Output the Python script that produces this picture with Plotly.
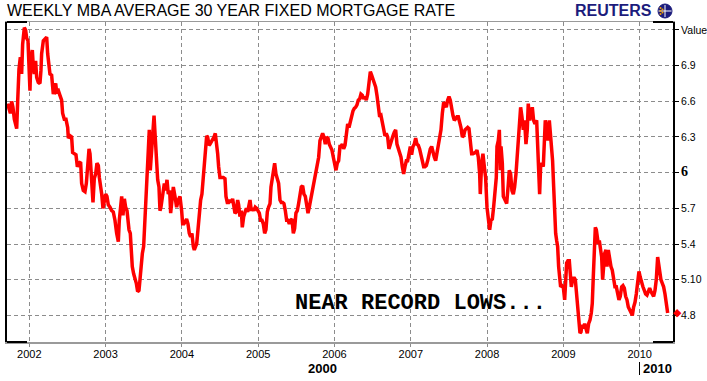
import plotly.graph_objects as go

# ---- data: weekly MBA 30-yr fixed rate (fraction of year offsets, rate %) ----
frac_2001 = [0.716,0.734,0.752,0.769,0.786,0.804,0.821,0.835,0.848,0.865,0.883,0.900,0.913,0.935,0.952,0.966,0.983,0.996]
rate_2001 = [6.58,6.55,6.50,6.60,6.55,6.45,6.38,6.37,6.60,6.87,6.97,6.83,7.08,7.22,7.20,7.13,7.11,6.86]

frac_2002 = [0.009,0.022,0.040,0.053,0.066,0.083,0.097,0.118,0.140,0.153,0.162,0.184,0.206,0.228,0.241,0.258,0.271,0.293,0.315,0.328,
             0.346,0.359,0.381,0.402,0.424,0.437,0.459,0.481,0.503,0.512,0.534,0.555,0.568,0.590,0.612,0.630,0.651,0.673,0.686,0.708,
             0.730,0.748,0.765,0.783,0.796,0.809,0.822,0.835,0.852,0.870,0.887,0.905,0.918,0.931,0.949,0.966,0.983]
rate_2002 = [6.69,6.97,7.03,6.89,6.83,6.94,6.80,6.76,6.75,6.86,7.00,7.11,7.13,7.14,7.00,6.93,6.83,6.82,6.66,6.72,
             6.75,6.68,6.69,6.65,6.61,6.50,6.45,6.45,6.38,6.29,6.31,6.30,6.17,6.16,6.15,6.05,6.08,6.09,5.91,5.85,
             5.84,5.91,6.08,6.20,6.16,6.03,5.82,5.75,5.95,5.99,6.08,6.06,5.96,5.91,5.82,5.70,5.77]

frac_2003 = [0.001,0.018,0.036,0.058,0.080,0.101,0.123,0.145,0.167,0.180,0.198,0.211,0.228,0.246,0.263,0.281,0.294,0.307,0.324,0.333,
             0.350,0.368,0.385,0.403,0.420,0.438,0.451,0.464,0.482,0.499,0.516,0.534,0.547,0.560,0.573,0.586,0.604,0.621,0.635,0.648,
             0.661,0.674,0.683,0.700,0.713,0.726,0.744,0.757,0.770,0.787,0.805,0.822,0.840,0.853,0.866,0.888,0.910,0.931,0.953,0.975,0.997]
rate_2003 = [5.82,5.80,5.73,5.71,5.68,5.67,5.60,5.49,5.42,5.60,5.77,5.80,5.64,5.78,5.71,5.68,5.60,5.52,5.49,5.32,
             5.21,5.15,5.12,5.07,5.00,5.01,5.10,5.24,5.32,5.38,5.60,5.77,5.99,6.23,6.36,6.02,6.19,6.36,6.48,6.33,
             6.13,6.10,5.94,5.88,5.68,5.71,5.80,5.85,5.91,5.85,5.94,5.82,5.85,5.66,5.77,5.88,5.80,5.71,5.77,5.80,5.68]

frac_2004 = [0.010,0.027,0.045,0.062,0.080,0.097,0.115,0.132,0.150,0.163,0.180,0.194,0.211,0.228,0.246,0.263,0.281,0.294,0.307,0.325,
             0.338,0.355,0.368,0.386,0.403,0.421,0.438,0.456,0.469,0.482,0.499,0.521,0.543,0.565,0.578,0.595,0.613,0.630,0.648,0.665,
             0.683,0.696,0.713,0.731,0.744,0.761,0.779,0.792,0.810,0.827,0.845,0.862,0.879,0.893,0.910,0.928,0.945,0.962,0.980,0.997]
rate_2004 = [5.57,5.57,5.60,5.61,5.57,5.49,5.46,5.49,5.38,5.35,5.38,5.40,5.52,5.66,5.77,5.82,5.94,6.08,6.16,6.31,
             6.30,6.23,6.24,6.26,6.27,6.30,6.33,6.24,6.16,6.05,5.96,5.96,5.96,5.95,5.80,5.75,5.75,5.77,5.75,5.78,
             5.68,5.66,5.67,5.77,5.73,5.63,5.68,5.54,5.63,5.67,5.70,5.67,5.71,5.77,5.68,5.70,5.68,5.71,5.70,5.68]

frac_2005 = [0.015,0.032,0.050,0.067,0.085,0.102,0.120,0.137,0.155,0.168,0.185,0.198,0.216,0.233,0.251,0.268,0.286,0.303,0.321,0.338,
             0.356,0.373,0.391,0.408,0.426,0.443,0.461,0.478,0.495,0.513,0.530,0.548,0.565,0.583,0.600,0.618,0.635,0.653,0.670,0.688,
             0.705,0.723,0.740,0.758,0.775,0.793,0.810,0.828,0.845,0.862,0.880,0.897,0.915,0.932,0.950,0.967,0.985]
rate_2005 = [5.66,5.60,5.60,5.57,5.49,5.52,5.67,5.71,5.74,5.88,5.96,6.02,6.08,5.99,5.94,5.91,5.77,5.75,5.75,5.74,
             5.68,5.60,5.60,5.57,5.60,5.61,5.49,5.53,5.66,5.68,5.74,5.80,5.88,5.89,5.82,5.80,5.74,5.66,5.71,5.77,
             5.82,5.88,5.96,6.03,6.08,6.13,6.27,6.31,6.33,6.30,6.24,6.30,6.29,6.24,6.22,6.19,6.13]

frac_2006 = [0.002,0.020,0.037,0.055,0.072,0.085,0.103,0.120,0.138,0.155,0.173,0.190,0.208,0.225,0.243,0.260,0.278,0.295,0.312,0.330,
             0.347,0.365,0.382,0.400,0.417,0.435,0.452,0.470,0.487,0.505,0.522,0.540,0.557,0.575,0.592,0.610,0.627,0.645,0.662,0.679,
             0.697,0.714,0.732,0.749,0.767,0.784,0.802,0.819,0.837,0.854,0.872,0.889,0.907,0.924,0.942,0.959,0.977,0.994]
rate_2006 = [6.05,6.02,6.08,6.10,6.22,6.22,6.24,6.20,6.23,6.31,6.41,6.38,6.44,6.47,6.52,6.54,6.55,6.57,6.61,6.62,
             6.66,6.65,6.62,6.64,6.61,6.66,6.78,6.85,6.82,6.79,6.76,6.72,6.65,6.55,6.47,6.48,6.41,6.36,6.31,6.33,
             6.30,6.20,6.24,6.29,6.31,6.34,6.36,6.24,6.20,6.15,6.13,6.05,5.99,6.05,6.10,6.10,6.19,6.22]

frac_2007 = [0.011,0.029,0.046,0.064,0.081,0.099,0.116,0.134,0.151,0.169,0.186,0.204,0.221,0.239,0.256,0.274,0.291,0.309,0.326,0.344,
             0.361,0.379,0.396,0.414,0.431,0.448,0.466,0.483,0.501,0.518,0.536,0.553,0.571,0.588,0.606,0.623,0.641,0.658,0.676,0.693,
             0.711,0.728,0.746,0.763,0.780,0.798,0.815,0.833,0.850,0.868,0.885,0.903,0.911,0.929,0.946,0.964,0.981,0.999]
rate_2007 = [6.15,6.22,6.24,6.29,6.24,6.23,6.20,6.15,6.10,6.05,6.05,6.06,6.10,6.16,6.20,6.22,6.16,6.13,6.10,6.16,
             6.22,6.31,6.36,6.50,6.59,6.58,6.55,6.61,6.64,6.61,6.52,6.48,6.44,6.45,6.47,6.47,6.43,6.38,6.30,6.31,
             6.36,6.37,6.38,6.37,6.27,6.16,6.16,6.17,6.17,6.19,6.13,5.99,5.82,6.08,6.16,6.05,5.96,5.71]

frac_2008 = [0.016,0.034,0.051,0.069,0.086,0.104,0.121,0.130,0.147,0.161,0.174,0.183,0.200,0.213,0.235,0.257,0.278,0.291,0.309,0.326,
             0.344,0.361,0.379,0.392,0.409,0.422,0.440,0.457,0.475,0.492,0.510,0.527,0.540,0.558,0.575,0.593,0.610,0.628,0.650,0.663,
             0.676,0.689,0.702,0.720,0.737,0.750,0.763,0.781,0.798,0.816,0.833,0.846,0.859,0.873,0.886,0.899,0.912,0.925,0.938,0.951,
             0.964,0.982,0.999]
rate_2008 = [5.60,5.52,5.60,5.61,5.71,5.82,5.96,6.22,6.27,6.36,6.02,6.22,6.08,5.80,5.77,5.74,5.90,6.02,5.99,5.85,
             5.82,5.88,5.99,6.13,6.22,6.44,6.55,6.47,6.36,6.44,6.24,6.36,6.58,6.44,6.50,6.55,6.44,6.41,6.44,6.22,
             5.99,5.82,6.05,6.08,6.05,6.22,6.44,6.36,6.27,6.44,6.33,6.22,6.10,5.88,5.66,5.49,5.43,5.38,5.21,5.07,
             5.04,5.05,5.04]

frac_2009 = [0.017,0.030,0.043,0.060,0.078,0.091,0.104,0.122,0.139,0.157,0.174,0.191,0.205,0.218,0.231,0.244,0.261,0.279,0.296,0.314,
             0.331,0.349,0.366,0.379,0.392,0.406,0.419,0.432,0.445,0.458,0.471,0.489,0.502,0.515,0.528,0.541,0.558,0.572,0.589,0.607,
             0.624,0.641,0.659,0.676,0.694,0.711,0.729,0.746,0.764,0.781,0.799,0.816,0.834,0.851,0.869,0.886,0.904,0.921,0.939,0.956,
             0.974,0.991]
rate_2009 = [4.93,5.10,5.24,5.26,5.26,5.15,5.04,5.10,5.12,5.10,4.96,4.87,4.73,4.65,4.66,4.72,4.69,4.73,4.69,4.65,
             4.73,4.76,4.82,4.90,5.12,5.46,5.54,5.52,5.46,5.40,5.43,5.32,5.29,5.10,5.26,5.32,5.35,5.21,5.35,5.26,
             5.21,5.18,5.10,5.04,5.04,4.98,4.93,4.96,5.04,5.05,5.03,4.96,4.93,4.87,4.84,4.82,4.80,4.87,4.91,4.98,
             5.10,5.17]

frac_2010 = [0.008,0.026,0.043,0.061,0.078,0.096,0.113,0.131,0.148,0.166,0.183,0.201,0.218,0.236,0.249,0.262,0.279,0.297,0.314,0.332,
             0.349,0.367]
rate_2010 = [5.12,5.07,5.04,5.01,4.98,4.97,5.01,5.03,5.00,4.98,4.96,5.01,5.10,5.29,5.24,5.15,5.10,5.07,5.04,4.98,
             4.87,4.82]

last_value = 4.82
last_marker_pos = 2010.50

x_range = [2001.708, 2010.437]
y_range = [4.576, 7.267]
year_ticks = [2002, 2003, 2004, 2005, 2006, 2007, 2008, 2009, 2010]
year_labels = ["2002", "2003", "2004", "2005", "2006", "2007", "2008", "2009", "2010"]
y_ticks = [4.8, 5.1, 5.4, 5.7, 6.0, 6.3, 6.6, 6.9, 7.2]
y_labels = ["4.8", "5.10", "5.4", "5.7",
            "<b><span style=\"font-family:'Liberation Serif';font-size:14px\">6</span></b>",
            "6.3", "6.6", "6.9", "Value"]

# ---- assemble series ----
segments = [(2001, frac_2001, rate_2001), (2002, frac_2002, rate_2002), (2003, frac_2003, rate_2003),
            (2004, frac_2004, rate_2004), (2005, frac_2005, rate_2005), (2006, frac_2006, rate_2006),
            (2007, frac_2007, rate_2007), (2008, frac_2008, rate_2008), (2009, frac_2009, rate_2009),
            (2010, frac_2010, rate_2010)]
xs, ys = [], []
for yr, fr, rt in segments:
    assert len(fr) == len(rt), yr
    xs += [yr + f for f in fr]
    ys += rt

fig = go.Figure()
fig.add_trace(go.Scatter(x=xs, y=ys, mode="lines",
                         line=dict(color="#ff0000", width=3.5), hoverinfo="skip"))

W, H = 707, 381
L, R, T, B = 7, 673, 22, 342
def px(x):
    return (x - L) / (R - L)
def py(y):
    return (B - y) / (B - T)

grid = dict(showgrid=True, gridcolor="#8c8c8c", gridwidth=1, griddash="4px,3px", zeroline=False,
            automargin=False)

fig.update_layout(
    template="none",
    width=W, height=H,
    margin=dict(l=L, r=W - R, t=T, b=H - B, pad=0),
    paper_bgcolor="white", plot_bgcolor="white",
    showlegend=False,
    font=dict(family="Liberation Sans, Arial, sans-serif", size=11, color="black"),
    xaxis=dict(range=x_range, tickmode="array", tickvals=year_ticks, ticktext=year_labels,
               ticks="outside", ticklen=3, tickcolor="#8c8c8c", showline=True, linecolor="#9a9a9a",
               linewidth=1.5, mirror=True, tickfont=dict(size=11), ticklabelstandoff=-2, **grid),
    yaxis=dict(range=y_range, side="right", tickmode="array", tickvals=y_ticks, ticktext=y_labels,
               ticks="outside", ticklen=4, tickcolor="black", showline=True, linecolor="black",
               linewidth=2, mirror=True, tickfont=dict(size=10.5), **grid),
)

shapes = []
for (x0, x1) in [(7, 27), (653, 673)]:
    for yy in (22, 342):
        shapes.append(dict(type="line", xref="paper", yref="paper", x0=px(x0), x1=px(x1), y0=py(yy), y1=py(yy),
                           line=dict(color="black", width=2), layer="above"))
# "|" before 2010 bottom label
shapes.append(dict(type="line", xref="paper", yref="paper", x0=px(639.5), x1=px(639.5), y0=py(362), y1=py(375),
                   line=dict(color="black", width=1)))
# Reuters globe icon
shapes.append(dict(type="circle", xref="paper", yref="paper", x0=px(658), x1=px(672), y0=py(18), y1=py(4),
                   fillcolor="#1c1c7c", line=dict(color="#1c1c7c", width=1)))
shapes.append(dict(type="line", xref="paper", yref="paper", x0=px(665), x1=px(665), y0=py(17), y1=py(5),
                   line=dict(color="white", width=1)))
shapes.append(dict(type="line", xref="paper", yref="paper", x0=px(658.5), x1=px(671.5), y0=py(11), y1=py(11),
                   line=dict(color="white", width=1)))
for (gx, gy) in [(660.5, 8), (660.5, 11), (660.5, 14), (662.5, 9.5), (662.5, 12.5)]:
    shapes.append(dict(type="circle", xref="paper", yref="paper", x0=px(gx - 1), x1=px(gx + 1),
                       y0=py(gy + 1), y1=py(gy - 1), fillcolor="#f5a000", line=dict(width=0)))

# last-value diamond sits just outside the plot area, on the value axis
last_xp = (last_marker_pos - x_range[0]) / (x_range[1] - x_range[0])

annotations = [
    dict(text="WEEKLY MBA AVERAGE 30 YEAR FIXED MORTGAGE RATE", xref="paper", yref="paper",
         x=px(5), y=py(11), xanchor="left", yanchor="middle", showarrow=False,
         font=dict(family="Liberation Sans, Arial, sans-serif", size=16, color="black")),
    dict(text="<b>REUTERS</b>", xref="paper", yref="paper", x=px(654), y=py(11),
         xanchor="right", yanchor="middle", showarrow=False,
         font=dict(family="Liberation Sans, Arial, sans-serif", size=16, color="#1c1c7c")),
    dict(text="<b>NEAR RECORD LOWS...</b>", xref="paper", yref="paper", x=px(293), y=py(303),
         xanchor="left", yanchor="middle", showarrow=False,
         font=dict(family="Liberation Mono, Courier New, monospace", size=22, color="black")),
    dict(text="<b>2000</b>", xref="paper", yref="paper", x=px(322), y=py(368.5),
         xanchor="center", yanchor="middle", showarrow=False,
         font=dict(family="Liberation Sans, Arial, sans-serif", size=13, color="black")),
    dict(text="<b>2010</b>", xref="paper", yref="paper", x=px(641), y=py(368.5),
         xanchor="left", yanchor="middle", showarrow=False,
         font=dict(family="Liberation Sans, Arial, sans-serif", size=13, color="black")),
    dict(text="◆", xref="paper", yref="y", x=last_xp, y=last_value,
         xanchor="center", yanchor="middle", showarrow=False,
         font=dict(family="DejaVu Sans", size=11, color="#ff0000")),
]
fig.update_layout(shapes=shapes, annotations=annotations)

fig.write_html("out.html", config={"displayModeBar": False, "staticPlot": True},
               post_script="document.body.style.margin='0';document.body.style.overflow='hidden';")
